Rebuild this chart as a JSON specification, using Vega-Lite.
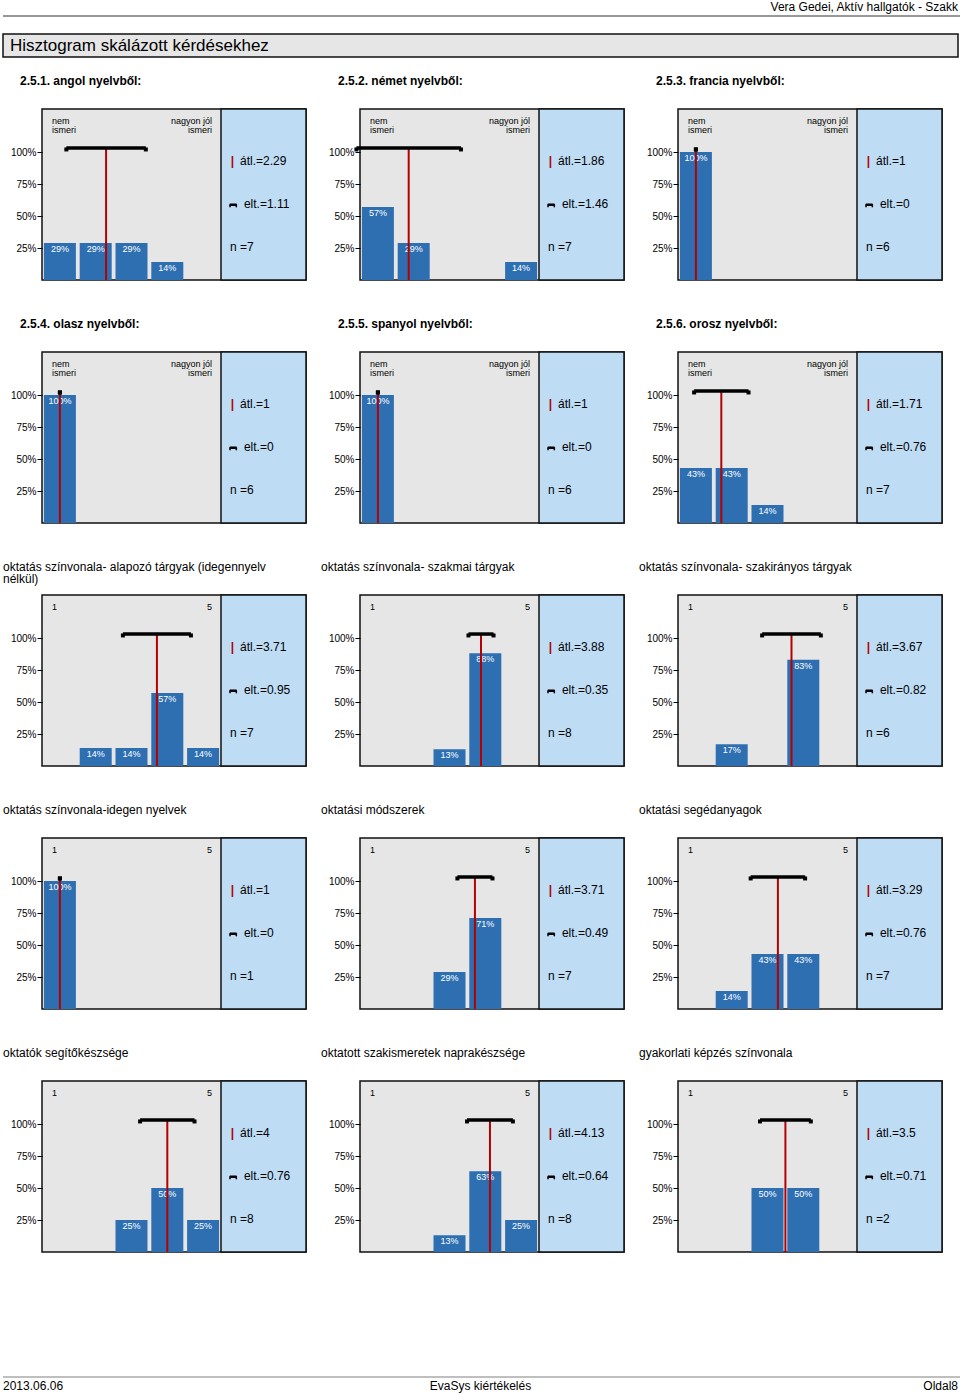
{
  "$schema": "https://vega.github.io/schema/vega-lite/v6.json",
  "padding": {"left": 2, "top": 0, "right": 0, "bottom": 0},
  "config": {
    "font": "Liberation Sans",
    "view": {"stroke": null},
    "text": {"font": "Liberation Sans", "color": "#000"},
    "axisX": {"disable": true}
  },
  "spacing": 16,
  "datasets": {
    "panels": [
      {"k": "s", "p": 1, "title": "2.5.1. angol nyelvből:", "lt": "nem\nismeri", "rt": "nagyon jól\nismeri", "mean": 2.29, "lo": 1.18, "hi": 3.40, "atl": "átl.=2.29", "elt": "elt.=1.11", "n": "n =7"},
      {"k": "s", "p": 2, "title": "2.5.2. német nyelvből:", "lt": "nem\nismeri", "rt": "nagyon jól\nismeri", "mean": 1.86, "lo": 0.40, "hi": 3.32, "atl": "átl.=1.86", "elt": "elt.=1.46", "n": "n =7"},
      {"k": "s", "p": 3, "title": "2.5.3. francia nyelvből:", "lt": "nem\nismeri", "rt": "nagyon jól\nismeri", "mean": 1, "lo": 1, "hi": 1, "atl": "átl.=1", "elt": "elt.=0", "n": "n =6"},
      {"k": "s", "p": 4, "title": "2.5.4. olasz nyelvből:", "lt": "nem\nismeri", "rt": "nagyon jól\nismeri", "mean": 1, "lo": 1, "hi": 1, "atl": "átl.=1", "elt": "elt.=0", "n": "n =6"},
      {"k": "s", "p": 5, "title": "2.5.5. spanyol nyelvből:", "lt": "nem\nismeri", "rt": "nagyon jól\nismeri", "mean": 1, "lo": 1, "hi": 1, "atl": "átl.=1", "elt": "elt.=0", "n": "n =6"},
      {"k": "s", "p": 6, "title": "2.5.6. orosz nyelvből:", "lt": "nem\nismeri", "rt": "nagyon jól\nismeri", "mean": 1.71, "lo": 0.95, "hi": 2.47, "atl": "átl.=1.71", "elt": "elt.=0.76", "n": "n =7"},
      {"k": "s", "p": 7, "title": "oktatás színvonala- alapozó tárgyak (idegennyelv\nnélkül)", "lt": "1", "rt": "5", "mean": 3.71, "lo": 2.76, "hi": 4.66, "atl": "átl.=3.71", "elt": "elt.=0.95", "n": "n =7"},
      {"k": "s", "p": 8, "title": "oktatás színvonala- szakmai tárgyak", "lt": "1", "rt": "5", "mean": 3.88, "lo": 3.53, "hi": 4.23, "atl": "átl.=3.88", "elt": "elt.=0.35", "n": "n =8"},
      {"k": "s", "p": 9, "title": "oktatás színvonala- szakirányos tárgyak", "lt": "1", "rt": "5", "mean": 3.67, "lo": 2.85, "hi": 4.49, "atl": "átl.=3.67", "elt": "elt.=0.82", "n": "n =6"},
      {"k": "s", "p": 10, "title": "oktatás színvonala-idegen nyelvek", "lt": "1", "rt": "5", "mean": 1, "lo": 1, "hi": 1, "atl": "átl.=1", "elt": "elt.=0", "n": "n =1"},
      {"k": "s", "p": 11, "title": "oktatási módszerek", "lt": "1", "rt": "5", "mean": 3.71, "lo": 3.22, "hi": 4.20, "atl": "átl.=3.71", "elt": "elt.=0.49", "n": "n =7"},
      {"k": "s", "p": 12, "title": "oktatási segédanyagok", "lt": "1", "rt": "5", "mean": 3.29, "lo": 2.53, "hi": 4.05, "atl": "átl.=3.29", "elt": "elt.=0.76", "n": "n =7"},
      {"k": "s", "p": 13, "title": "oktatók segítőkészsége", "lt": "1", "rt": "5", "mean": 4, "lo": 3.24, "hi": 4.76, "atl": "átl.=4", "elt": "elt.=0.76", "n": "n =8"},
      {"k": "s", "p": 14, "title": "oktatott szakismeretek naprakészsége", "lt": "1", "rt": "5", "mean": 4.13, "lo": 3.49, "hi": 4.77, "atl": "átl.=4.13", "elt": "elt.=0.64", "n": "n =8"},
      {"k": "s", "p": 15, "title": "gyakorlati képzés színvonala", "lt": "1", "rt": "5", "mean": 3.5, "lo": 2.79, "hi": 4.21, "atl": "átl.=3.5", "elt": "elt.=0.71", "n": "n =2"},
      {"k": "b", "p": 1, "v": 1, "pct": 0.29},
      {"k": "b", "p": 1, "v": 2, "pct": 0.29},
      {"k": "b", "p": 1, "v": 3, "pct": 0.29},
      {"k": "b", "p": 1, "v": 4, "pct": 0.14},
      {"k": "b", "p": 2, "v": 1, "pct": 0.57},
      {"k": "b", "p": 2, "v": 2, "pct": 0.29},
      {"k": "b", "p": 2, "v": 5, "pct": 0.14},
      {"k": "b", "p": 3, "v": 1, "pct": 1},
      {"k": "b", "p": 4, "v": 1, "pct": 1},
      {"k": "b", "p": 5, "v": 1, "pct": 1},
      {"k": "b", "p": 6, "v": 1, "pct": 0.43},
      {"k": "b", "p": 6, "v": 2, "pct": 0.43},
      {"k": "b", "p": 6, "v": 3, "pct": 0.14},
      {"k": "b", "p": 7, "v": 2, "pct": 0.14},
      {"k": "b", "p": 7, "v": 3, "pct": 0.14},
      {"k": "b", "p": 7, "v": 4, "pct": 0.57},
      {"k": "b", "p": 7, "v": 5, "pct": 0.14},
      {"k": "b", "p": 8, "v": 3, "pct": 0.13},
      {"k": "b", "p": 8, "v": 4, "pct": 0.88},
      {"k": "b", "p": 9, "v": 2, "pct": 0.17},
      {"k": "b", "p": 9, "v": 4, "pct": 0.83},
      {"k": "b", "p": 10, "v": 1, "pct": 1},
      {"k": "b", "p": 11, "v": 3, "pct": 0.29},
      {"k": "b", "p": 11, "v": 4, "pct": 0.71},
      {"k": "b", "p": 12, "v": 2, "pct": 0.14},
      {"k": "b", "p": 12, "v": 3, "pct": 0.43},
      {"k": "b", "p": 12, "v": 4, "pct": 0.43},
      {"k": "b", "p": 13, "v": 3, "pct": 0.25},
      {"k": "b", "p": 13, "v": 4, "pct": 0.5},
      {"k": "b", "p": 13, "v": 5, "pct": 0.25},
      {"k": "b", "p": 14, "v": 3, "pct": 0.13},
      {"k": "b", "p": 14, "v": 4, "pct": 0.63},
      {"k": "b", "p": 14, "v": 5, "pct": 0.25},
      {"k": "b", "p": 15, "v": 3, "pct": 0.5},
      {"k": "b", "p": 15, "v": 4, "pct": 0.5}
    ]
  },
  "vconcat": [
    {
      "width": 916,
      "height": 56,
      "data": {"values": [{"top": "Vera Gedei, Aktív hallgatók - Szakk", "title": "Hisztogram skálázott kérdésekhez"}]},
      "layer": [
        {
          "mark": {"type": "rule", "stroke": "#333", "strokeWidth": 1},
          "encoding": {
            "x": {"datum": 0, "type": "quantitative", "scale": {"domain": [0, 1], "range": [-39, 916]}, "axis": null},
            "x2": {"datum": 1.004},
            "y": {"datum": 0.268, "type": "quantitative", "scale": {"domain": [0, 1], "reverse": true}, "axis": null}
          }
        },
        {
          "mark": {"type": "rect", "fill": "#e6e6e6", "stroke": "#111", "strokeWidth": 1.5},
          "encoding": {
            "x": {"datum": 0, "type": "quantitative", "axis": null},
            "x2": {"datum": 1},
            "y": {"datum": 0.589, "type": "quantitative", "axis": null},
            "y2": {"datum": 1}
          }
        },
        {
          "mark": {"type": "text", "align": "left", "baseline": "middle", "fontSize": 17},
          "encoding": {
            "x": {"datum": 0.0073, "type": "quantitative", "axis": null},
            "y": {"datum": 0.804, "type": "quantitative", "axis": null},
            "text": {"field": "title"}
          }
        },
        {
          "mark": {"type": "text", "align": "right", "baseline": "middle", "fontSize": 12},
          "encoding": {
            "x": {"datum": 1, "type": "quantitative", "axis": null},
            "y": {"datum": 0.107, "type": "quantitative", "axis": null},
            "text": {"field": "top"}
          }
        }
      ]
    },
    {
      "data": {"name": "panels"},
      "facet": {"field": "p", "type": "ordinal", "header": {"labels": false, "title": null, "labelExpr": "''", "labelFontSize": 0, "labelPadding": 0}},
      "columns": 3,
      "align": "all",
      "spacing": {"row": 35, "column": 12},
      "resolve": {"scale": {"y": "independent"}, "axis": {"y": "independent"}},
      "spec": {
        "width": 264,
        "height": 171,
        "view": {"fill": "#e6e6e6", "stroke": "#111", "strokeWidth": 1.5},
        "layer": [
          {
            "transform": [{"filter": "datum.k == 's'"}],
            "mark": {"type": "rect", "fill": "#bfdcf5", "stroke": "#111", "strokeWidth": 1.5},
            "encoding": {
              "x": {"datum": 5.5, "type": "quantitative", "scale": {"domain": [0.5, 7.874], "nice": false, "zero": false, "padding": 0}},
              "x2": {"datum": 7.874},
              "y": {
                "datum": 0, "type": "quantitative", "title": null,
                "scale": {"domain": [0, 1.336], "nice": false, "zero": true, "padding": 0},
                "axis": {"orient": "left", "values": [0.25, 0.5, 0.75, 1], "format": ".0%", "labelFontSize": 10, "labelFont": "Liberation Sans", "labelColor": "#000", "tickColor": "#000", "tickSize": 5, "tickWidth": 1, "labelPadding": 1, "domain": false, "grid": false, "title": null}
              },
              "y2": {"datum": 1.336}
            }
          },
          {
            "transform": [{"filter": "datum.k == 'b'"}],
            "mark": {"type": "bar", "orient": "vertical", "width": 32, "color": "#2e6fb2"},
            "encoding": {
              "x": {"field": "v", "type": "quantitative"},
              "y": {"field": "pct", "type": "quantitative", "title": null}
            }
          },
          {
            "transform": [{"filter": "datum.k == 'b'"}],
            "mark": {"type": "text", "color": "#ffffff", "fontSize": 9, "baseline": "top", "dy": 2},
            "encoding": {
              "x": {"field": "v", "type": "quantitative"},
              "y": {"field": "pct", "type": "quantitative", "title": null},
              "text": {"field": "pct", "type": "quantitative", "format": ".0%"}
            }
          },
          {
            "transform": [{"filter": "datum.k == 's'"}],
            "mark": {"type": "rule", "color": "#b30000", "strokeWidth": 2},
            "encoding": {
              "x": {"field": "mean", "type": "quantitative"},
              "y": {"datum": 0, "type": "quantitative", "title": null},
              "y2": {"datum": 1.031}
            }
          },
          {
            "transform": [{"filter": "datum.k == 's'"}],
            "mark": {"type": "rule", "color": "#000", "strokeWidth": 3.5},
            "encoding": {
              "x": {"field": "lo", "type": "quantitative"},
              "x2": {"field": "hi"},
              "y": {"datum": 1.031, "type": "quantitative", "title": null}
            }
          },
          {
            "transform": [{"filter": "datum.k == 's'"}, {"fold": ["lo", "hi"], "as": ["end", "xv"]}],
            "mark": {"type": "point", "shape": "square", "filled": true, "color": "#000", "size": 16, "opacity": 1},
            "encoding": {
              "x": {"field": "xv", "type": "quantitative"},
              "y": {"datum": 1.02, "type": "quantitative", "title": null}
            }
          },
          {
            "transform": [{"filter": "datum.k == 's'"}],
            "mark": {"type": "text", "align": "left", "baseline": "top", "fontSize": 9, "lineBreak": "\n", "lineHeight": 9},
            "encoding": {
              "x": {"datum": 0.78, "type": "quantitative"},
              "y": {"datum": 1.27, "type": "quantitative", "title": null},
              "text": {"field": "lt"}
            }
          },
          {
            "transform": [{"filter": "datum.k == 's'"}],
            "mark": {"type": "text", "align": "right", "baseline": "top", "fontSize": 9, "lineBreak": "\n", "lineHeight": 9},
            "encoding": {
              "x": {"datum": 5.25, "type": "quantitative"},
              "y": {"datum": 1.27, "type": "quantitative", "title": null},
              "text": {"field": "rt"}
            }
          },
          {
            "transform": [{"filter": "datum.k == 's'"}],
            "mark": {"type": "text", "text": "|", "color": "#b30000", "fontSize": 12, "fontWeight": "bold", "align": "center", "baseline": "middle"},
            "encoding": {
              "x": {"datum": 5.82, "type": "quantitative"},
              "y": {"datum": 0.93, "type": "quantitative", "title": null}
            }
          },
          {
            "transform": [{"filter": "datum.k == 's'"}],
            "mark": {"type": "text", "align": "left", "baseline": "middle", "fontSize": 12},
            "encoding": {
              "x": {"datum": 6.03, "type": "quantitative"},
              "y": {"datum": 0.93, "type": "quantitative", "title": null},
              "text": {"field": "atl"}
            }
          },
          {
            "transform": [{"filter": "datum.k == 's'"}],
            "mark": {"type": "rule", "color": "#000", "strokeWidth": 2.5},
            "encoding": {
              "x": {"datum": 5.745, "type": "quantitative"},
              "x2": {"datum": 5.935},
              "y": {"datum": 0.588, "type": "quantitative", "title": null}
            }
          },
          {
            "transform": [{"filter": "datum.k == 's'"}],
            "mark": {"type": "rule", "color": "#000", "strokeWidth": 1.5},
            "encoding": {
              "x": {"datum": 5.752, "type": "quantitative"},
              "y": {"datum": 0.592, "type": "quantitative", "title": null},
              "y2": {"datum": 0.568}
            }
          },
          {
            "transform": [{"filter": "datum.k == 's'"}],
            "mark": {"type": "rule", "color": "#000", "strokeWidth": 1.5},
            "encoding": {
              "x": {"datum": 5.928, "type": "quantitative"},
              "y": {"datum": 0.592, "type": "quantitative", "title": null},
              "y2": {"datum": 0.568}
            }
          },
          {
            "transform": [{"filter": "datum.k == 's'"}],
            "mark": {"type": "text", "align": "left", "baseline": "middle", "fontSize": 12},
            "encoding": {
              "x": {"datum": 6.14, "type": "quantitative"},
              "y": {"datum": 0.594, "type": "quantitative", "title": null},
              "text": {"field": "elt"}
            }
          },
          {
            "transform": [{"filter": "datum.k == 's'"}],
            "mark": {"type": "text", "align": "left", "baseline": "middle", "fontSize": 12},
            "encoding": {
              "x": {"datum": 5.75, "type": "quantitative"},
              "y": {"datum": 0.258, "type": "quantitative", "title": null},
              "text": {"field": "n"}
            }
          },
          {
            "transform": [{"filter": "datum.k == 's'"}],
            "mark": {
              "type": "text", "align": "left", "baseline": "top", "fontSize": 12, "lineBreak": "\n", "lineHeight": 12,
              "dx": {"expr": "datum.p <= 6 ? -22 : -39"}, "dy": -33,
              "fontWeight": {"expr": "datum.p <= 6 ? 'bold' : 'normal'"}
            },
            "encoding": {
              "x": {"datum": 0.5, "type": "quantitative"},
              "y": {"datum": 1.336, "type": "quantitative", "title": null},
              "text": {"field": "title"}
            }
          }
        ]
      }
    },
    {
      "width": 916,
      "height": 126,
      "data": {"values": [{"a": "2013.06.06", "b": "EvaSys kiértékelés", "c": "Oldal8"}]},
      "layer": [
        {
          "mark": {"type": "rule", "stroke": "#aaaaaa", "strokeWidth": 1.5},
          "encoding": {
            "x": {"datum": 0, "type": "quantitative", "scale": {"domain": [0, 1], "range": [-39, 916]}, "axis": null},
            "x2": {"datum": 1.004},
            "y": {"datum": 0.849, "type": "quantitative", "scale": {"domain": [0, 1], "reverse": true}, "axis": null}
          }
        },
        {
          "mark": {"type": "text", "align": "left", "baseline": "middle", "fontSize": 12},
          "encoding": {
            "x": {"datum": 0, "type": "quantitative", "axis": null},
            "y": {"datum": 0.921, "type": "quantitative", "axis": null},
            "text": {"field": "a"}
          }
        },
        {
          "mark": {"type": "text", "align": "center", "baseline": "middle", "fontSize": 12},
          "encoding": {
            "x": {"datum": 0.5, "type": "quantitative", "axis": null},
            "y": {"datum": 0.921, "type": "quantitative", "axis": null},
            "text": {"field": "b"}
          }
        },
        {
          "mark": {"type": "text", "align": "right", "baseline": "middle", "fontSize": 12},
          "encoding": {
            "x": {"datum": 1, "type": "quantitative", "axis": null},
            "y": {"datum": 0.921, "type": "quantitative", "axis": null},
            "text": {"field": "c"}
          }
        }
      ]
    }
  ]
}
